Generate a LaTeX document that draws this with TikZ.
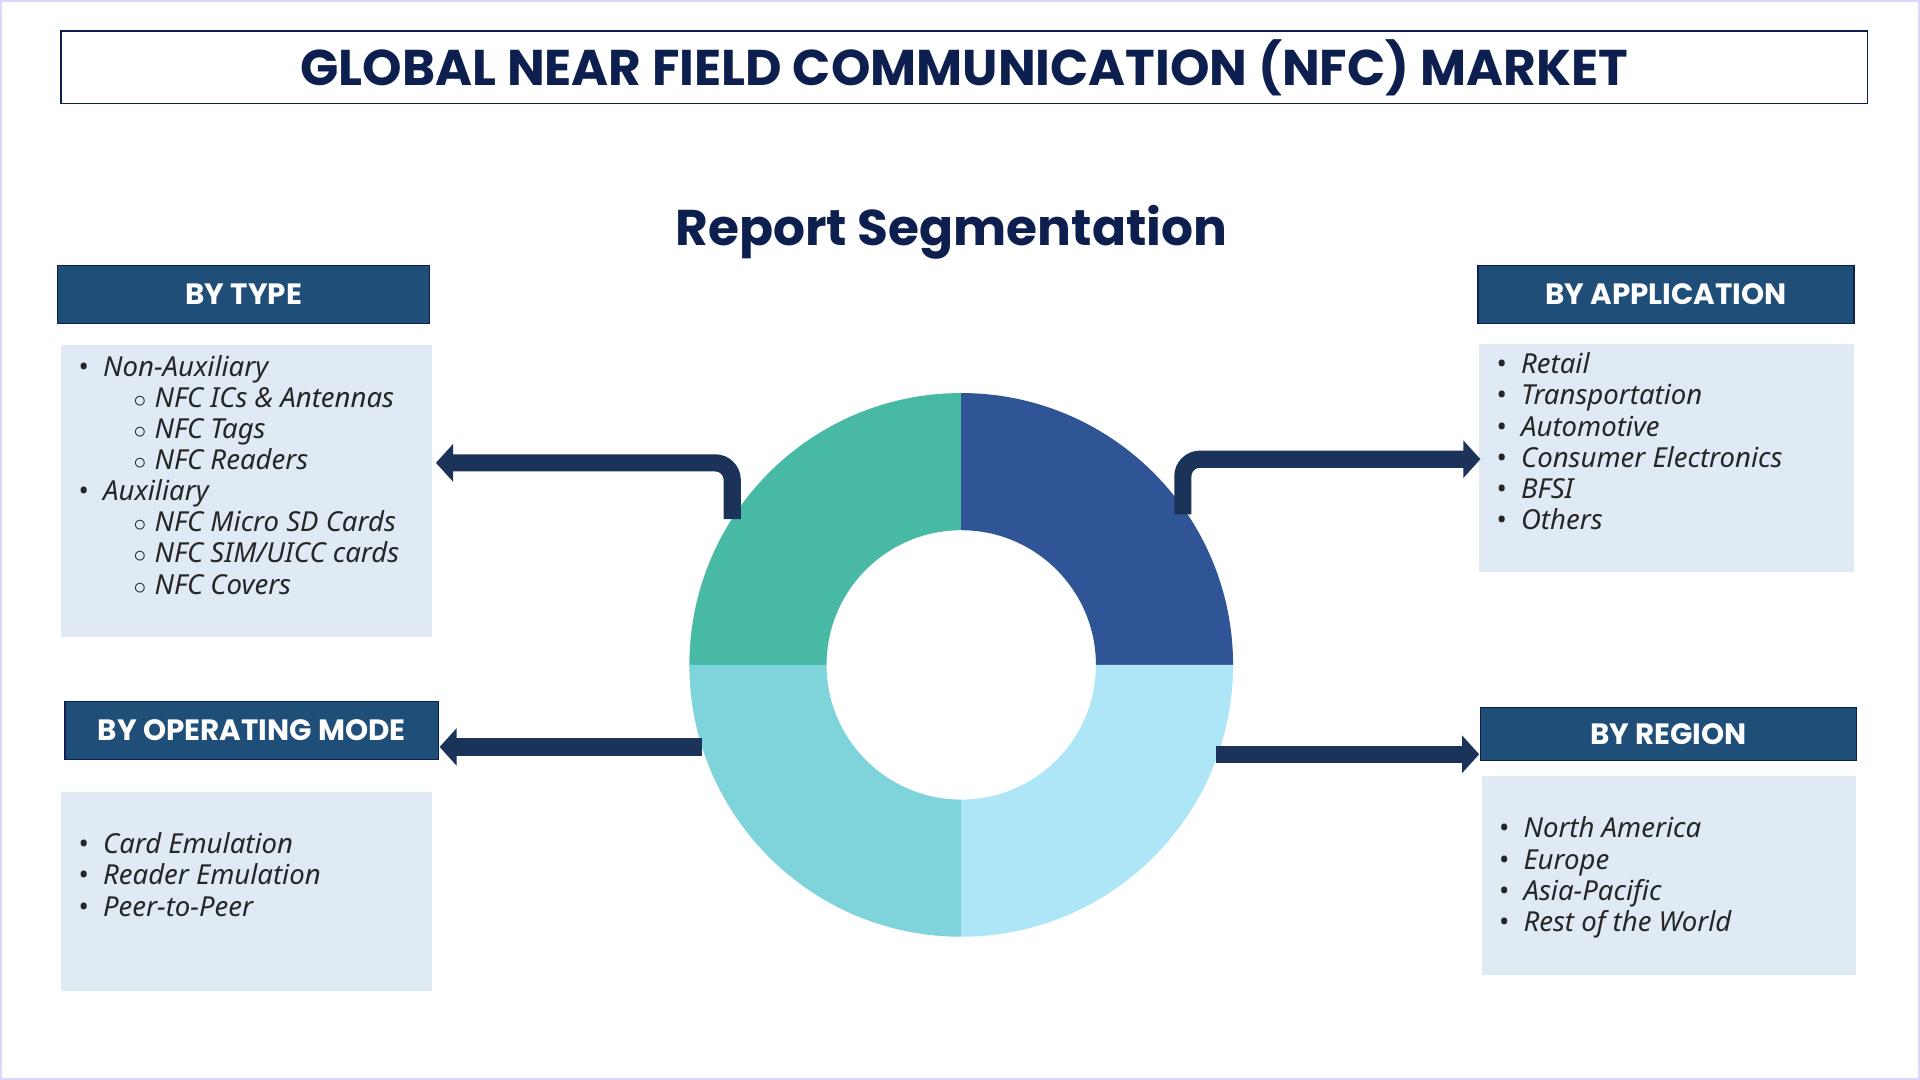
\documentclass[tikz,border=0pt]{standalone}
\usepackage{fontspec}
\setmainfont{Noto Sans}
\newfontfamily\headfont{Poppins}[UprightFont=* Bold]
\usetikzlibrary{arrows.meta}
\definecolor{navy}{HTML}{0D1F4F}
\definecolor{hdr}{HTML}{1F4E79}
\definecolor{boxbg}{HTML}{DFEAF5}
\definecolor{arr}{HTML}{1B3358}
\definecolor{qa}{HTML}{48B9A5}
\definecolor{qb}{HTML}{2F5597}
\definecolor{qc}{HTML}{AEE6F8}
\definecolor{qd}{HTML}{7FD3DA}
\tikzset{
 hdrbox/.style={draw=navy,line width=1pt,fill=hdr,text=white,font=\headfont\fontsize{24}{26}\selectfont},
 listbox/.style={fill=boxbg},
 listtxt/.style={anchor=north west,align=left,inner sep=0pt,font=\itshape\fontsize{22.5}{25.4}\selectfont,text=black!85},
 arrline/.style={draw=arr,line width=14pt,rounded corners=14pt,-{Triangle[length=14pt,width=30pt]}}
}
\newcommand{\bl}{\makebox[20pt][l]{\upshape\textbullet}}
\newcommand{\sbl}{\hspace*{45pt}\makebox[17pt][l]{$\circ$}}
\begin{document}
\begin{tikzpicture}[x=1pt,y=-1pt]
\path[use as bounding box,fill=white] (0,0) rectangle (1568,882);
\draw[draw=blue!15,line width=2pt] (1,1) rectangle (1567,881);
\node[draw=navy,line width=1.2pt,minimum width=1475pt,minimum height=59pt,text=navy,font=\headfont\fontsize{41}{44}\selectfont] (title) at (787.5,55) {GLOBAL NEAR FIELD COMMUNICATION (NFC) MARKET};
\node[text=navy,font=\headfont\fontsize{41}{44}\selectfont] (rs) at (777,190) {Report Segmentation};
% donut
\begin{scope}[shift={(785,543)},y=1pt]
\fill[qa] (-222,0) arc[start angle=180,end angle=90,radius=222] -- (0,110) arc[start angle=90,end angle=180,radius=110] -- cycle;
\fill[qb] (0,222) arc[start angle=90,end angle=0,radius=222] -- (110,0) arc[start angle=0,end angle=90,radius=110] -- cycle;
\fill[qc] (222,0) arc[start angle=0,end angle=-90,radius=222] -- (0,-110) arc[start angle=-90,end angle=0,radius=110] -- cycle;
\fill[qd] (0,-222) arc[start angle=-90,end angle=-180,radius=222] -- (-110,0) arc[start angle=-180,end angle=-90,radius=110] -- cycle;
\end{scope}
% headers
\node[hdrbox,minimum width=304pt,minimum height=47pt] (ht) at (199,240.5) {BY TYPE};
\node[hdrbox,minimum width=307pt,minimum height=47pt] (ha) at (1360.5,240.5) {BY APPLICATION};
\node[hdrbox,minimum width=305pt,minimum height=47pt] (ho) at (205.5,596.5) {BY OPERATING MODE};
\node[hdrbox,minimum width=307pt,minimum height=43pt] (hr) at (1362.5,599.5) {BY REGION};
% list boxes
\fill[listbox] (50,282) rectangle (353,520);
\fill[listbox] (1208,281) rectangle (1514,467);
\fill[listbox] (50,647) rectangle (353,809);
\fill[listbox] (1210,634) rectangle (1516,796);
\node[listtxt] (lt) at (64,290) {\bl Non-Auxiliary\\ \sbl NFC ICs \& Antennas\\ \sbl NFC Tags\\ \sbl NFC Readers\\ \bl Auxiliary\\ \sbl NFC Micro SD Cards\\ \sbl NFC SIM/UICC cards\\ \sbl NFC Covers};
\node[listtxt] (la) at (1222,288) {\bl Retail\\ \bl Transportation\\ \bl Automotive\\ \bl Consumer Electronics\\ \bl BFSI\\ \bl Others};
\node[listtxt] (lo) at (64,680) {\bl Card Emulation\\ \bl Reader Emulation\\ \bl Peer-to-Peer};
\node[listtxt] (lr) at (1224,667) {\bl North America\\ \bl Europe\\ \bl Asia-Pacific\\ \bl Rest of the World};
% arrows
\coordinate (a1) at (598,424);
\coordinate (a1e) at (356,378);
\draw[arrline] (a1) |- (a1e);
\coordinate (a2) at (966,420);
\coordinate (a2e) at (1209,375);
\draw[arrline] (a2) |- (a2e);
\coordinate (a3) at (573,610);
\coordinate (a3e) at (359,610);
\draw[arrline] (a3) -- (a3e);
\coordinate (a4) at (993,616);
\coordinate (a4e) at (1208,616);
\draw[arrline] (a4) -- (a4e);
\end{tikzpicture}
\end{document}
